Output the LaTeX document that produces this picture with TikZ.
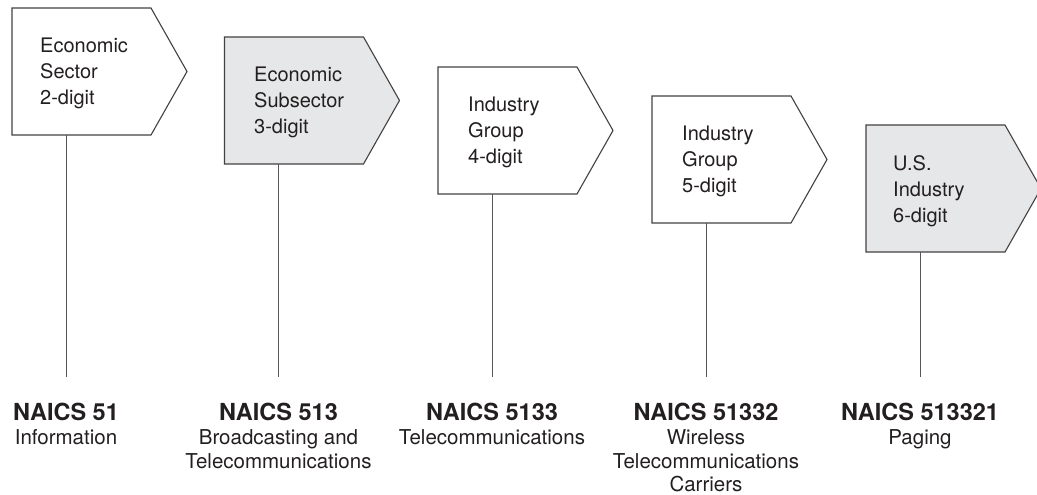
\documentclass[tikz,border=0pt]{standalone}
\usepackage{fontspec}
\setmainfont{TeX Gyre Heros}
\usepackage{tikz}
\usetikzlibrary{calc}

\definecolor{signgray}{HTML}{E6E7E8}
\definecolor{ink}{HTML}{231F20}

\tikzset{
  signline/.style={draw=ink!85, line width=1.1pt, line join=miter},
  signtext/.style={anchor=north west, inner sep=0pt, align=left, text=ink,
    font=\fontsize{20}{26}\selectfont},
  pole/.style={draw=ink!75, line width=1pt},
  naics/.style={anchor=north, inner sep=0pt, align=center, text=ink,
    font=\fontsize{20.5}{23.7}\selectfont},
}
\newcommand{\code}[1]{{\fontsize{23.5}{23.7}\selectfont\bfseries #1}}

\begin{document}
\begin{tikzpicture}[x=1pt,y=-1pt]
\clip (0,0) rectangle (1037,495);

% signs
\draw [signline,fill=white] (12,8) -- (151,8) -- (187,71.5) -- (151,135) -- (12,135) -- cycle;
\draw [signline,fill=signgray] (224.5,37) -- (363.5,37) -- (399.5,100.5) -- (363.5,164) -- (224.5,164) -- cycle;
\draw [signline,fill=white] (438,67) -- (577,67) -- (613,130.5) -- (577,194) -- (438,194) -- cycle;
\draw [signline,fill=white] (652,96) -- (791,96) -- (827,159.5) -- (791,223) -- (652,223) -- cycle;
\draw [signline,fill=signgray] (866,125) -- (1005,125) -- (1041,188.5) -- (1005,252) -- (866,252) -- cycle;

\node [signtext] (sector) at (40,38) {Economic\\Sector\\2-digit};
\node [signtext] (subsector) at (254,67) {Economic\\Subsector\\3-digit};
\node [signtext] (group4) at (468,97) {Industry\\Group\\4-digit};
\node [signtext] (group5) at (682,126) {Industry\\Group\\5-digit};
\node [signtext] (usind) at (893,155) {U.S.\\Industry\\6-digit};

% poles
\coordinate (top1) at (66,135);   \coordinate (bot1) at (66,377);
\coordinate (top2) at (278.5,164); \coordinate (bot2) at (278.5,377);
\coordinate (top3) at (492,194);  \coordinate (bot3) at (492,377);
\coordinate (top4) at (706,223);  \coordinate (bot4) at (706,377);
\coordinate (top5) at (920,252);  \coordinate (bot5) at (920,377);
\draw [pole] (top1) -- (bot1);
\draw [pole] (top2) -- (bot2);
\draw [pole] (top3) -- (bot3);
\draw [pole] (top4) -- (bot4);
\draw [pole] (top5) -- (bot5);

% codes
\node [naics] (naics1) at (66,403) {\code{NAICS 51}\\Information};
\node [naics] (naics2) at (278.5,403) {\code{NAICS 513}\\Broadcasting and\\Telecommunications};
\node [naics] (naics3) at (492,403) {\code{NAICS 5133}\\Telecommunications};
\node [naics] (naics4) at (706,403) {\code{NAICS 51332}\\Wireless\\Telecommunications\\Carriers};
\node [naics] (naics5) at (920,403) {\code{NAICS 513321}\\Paging};
\end{tikzpicture}
\end{document}
